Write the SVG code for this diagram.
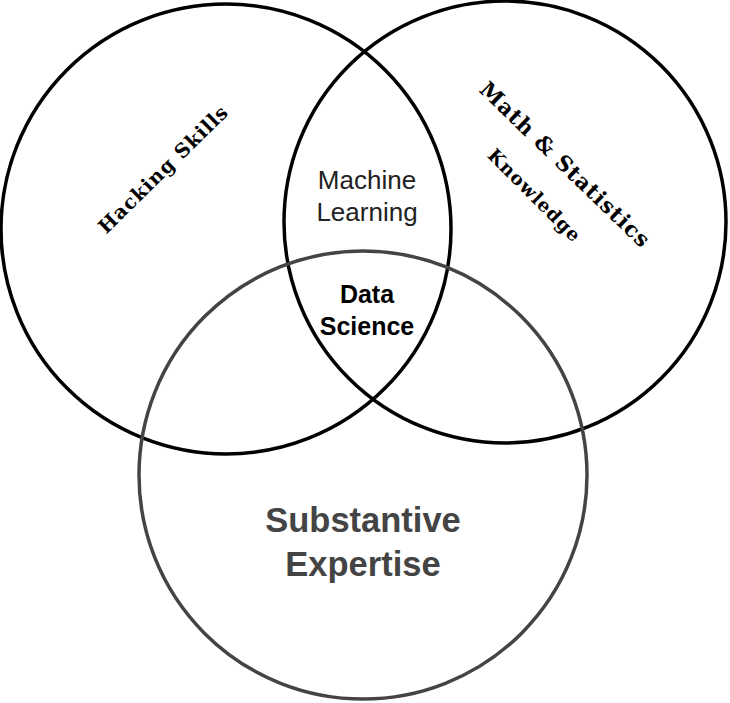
<svg xmlns="http://www.w3.org/2000/svg" width="730" height="703" viewBox="0 0 730 703">
<style>
.c{fill:none;stroke-width:3.5}
.s{font-family:"DejaVu Serif","Liberation Serif",serif;font-weight:bold;fill:#000}
.a{font-family:"Liberation Sans",Arial,sans-serif;text-anchor:middle}
</style>
<rect width="730" height="703" fill="#fff"/>
<g id="connectors"></g>
<g id="hacking"><circle class="c" cx="226" cy="229" r="225" stroke="#000"/>
<text class="s" font-size="19.5" letter-spacing="1" text-anchor="middle" transform="translate(168,174) rotate(-44.5)">Hacking Skills</text></g>
<g id="math"><circle class="c" cx="505" cy="222" r="221" stroke="#000"/>
<text class="s" font-size="21.5" letter-spacing="1" text-anchor="middle" transform="translate(560,170) rotate(44)">Math &amp; Statistics</text>
<text class="s" font-size="18.5" letter-spacing="1" text-anchor="middle" transform="translate(530,200) rotate(45)">Knowledge</text></g>
<g id="substantive"><circle class="c" cx="363" cy="475" r="224" stroke="#444"/>
<text class="a" font-size="34.5" font-weight="bold" fill="#444" x="363" y="532">Substantive</text>
<text class="a" font-size="34.5" font-weight="bold" fill="#444" x="363" y="576">Expertise</text></g>
<g id="ml"><text class="a" font-size="26" fill="#222" x="367" y="189">Machine</text>
<text class="a" font-size="26" fill="#222" x="367" y="221">Learning</text></g>
<g id="ds"><text class="a" font-size="25" font-weight="bold" x="367" y="303">Data</text>
<text class="a" font-size="25" font-weight="bold" x="367" y="335">Science</text></g>
</svg>
